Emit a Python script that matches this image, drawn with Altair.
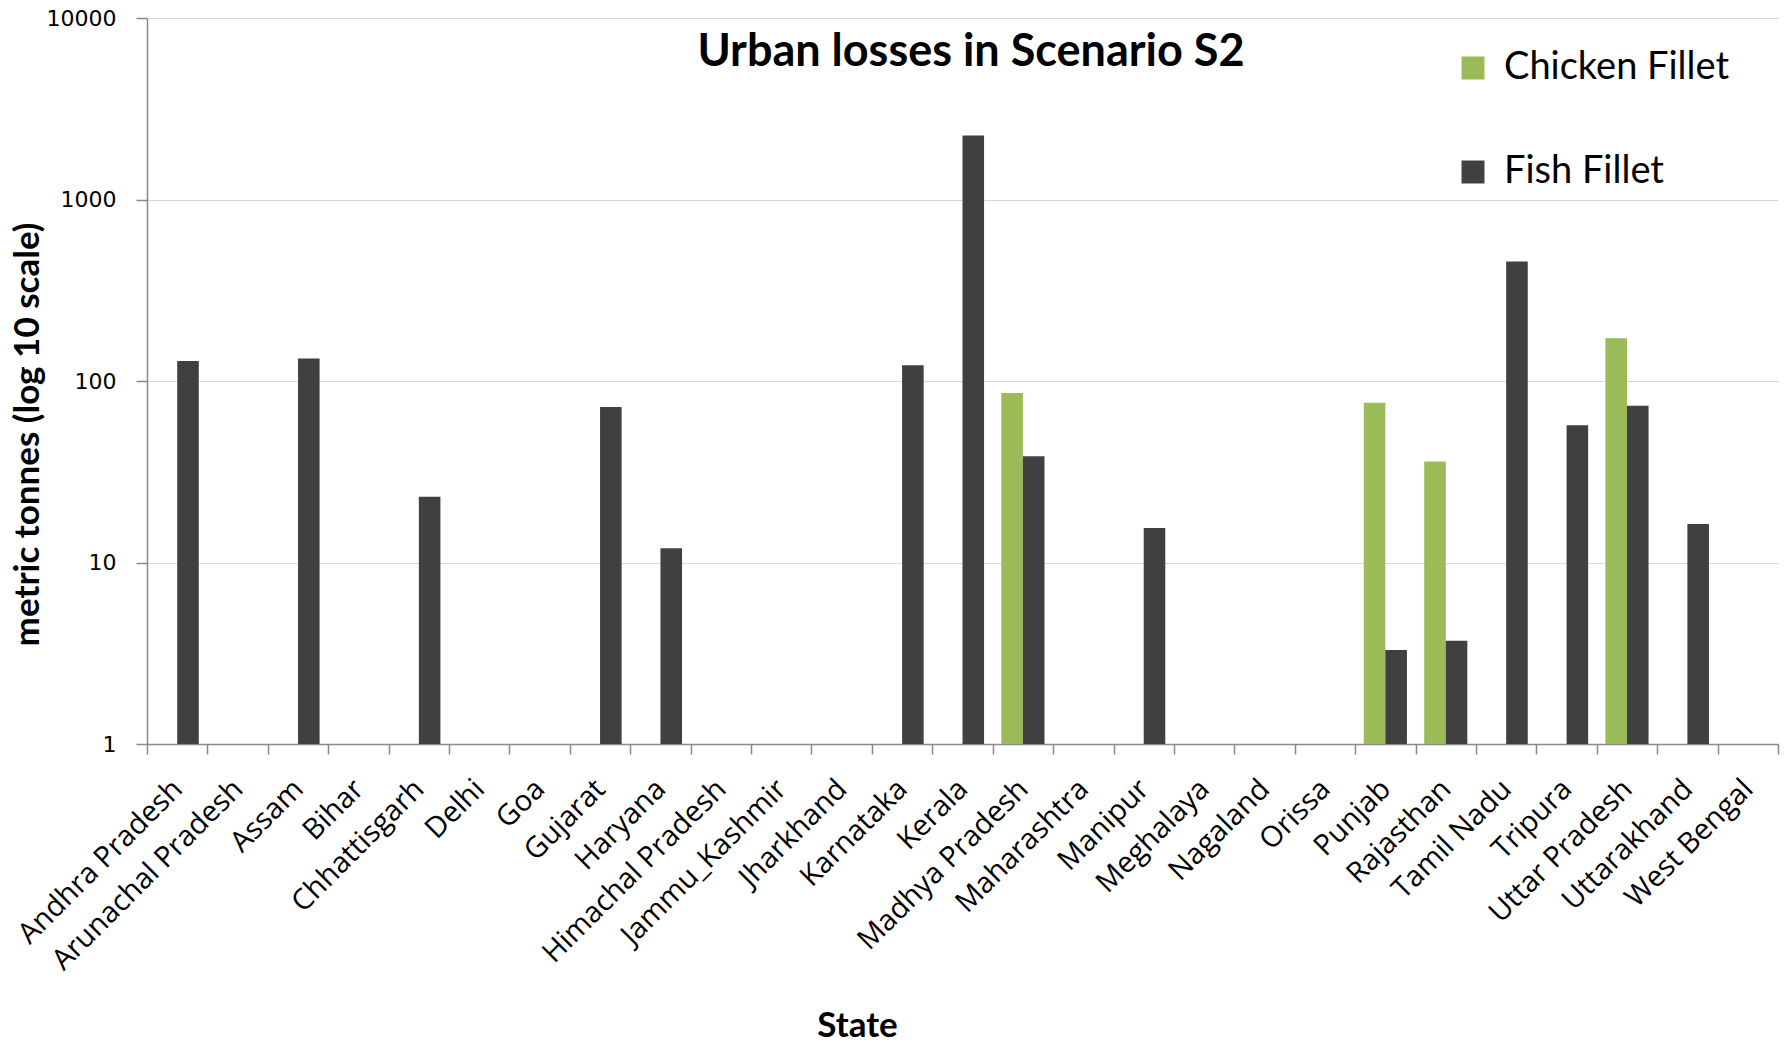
import altair as alt
import pandas as pd

# Urban losses (metric tonnes) by state, scenario S2
states = [
    "Andhra Pradesh", "Arunachal Pradesh", "Assam", "Bihar", "Chhattisgarh",
    "Delhi", "Goa", "Gujarat", "Haryana", "Himachal Pradesh", "Jammu_Kashmir",
    "Jharkhand", "Karnataka", "Kerala", "Madhya Pradesh", "Maharashtra",
    "Manipur", "Meghalaya", "Nagaland", "Orissa", "Punjab", "Rajasthan",
    "Tamil Nadu", "Tripura", "Uttar Pradesh", "Uttarakhand", "West Bengal",
]
chicken_fillet = [
    None, None, None, None, None, None, None, None, None, None, None, None,
    None, None, 86, None, None, None, None, None, 76, 36, None, None, 172,
    None, None,
]
fish_fillet = [
    129, None, 133, None, 23, None, None, 72, 12, None, None, None, 122,
    2250, 38.5, None, 15.5, None, None, None, 3.3, 3.7, 455, 57, 73, 16.3,
    None,
]
series = ["Chicken Fillet", "Fish Fillet"]
colors = ["#9bbb59", "#404040"]
y_ticks = [1, 10, 100, 1000, 10000]

rows = []
for name, values in zip(series, [chicken_fillet, fish_fillet]):
    for st, v in zip(states, values):
        if v is not None:
            rows.append({"State": st, "Product": name, "Loss": v})
df = pd.DataFrame(rows)

W, H = 1631, 726
FONT = "Lato"

bars = alt.Chart(df).mark_bar().encode(
    x=alt.X(
        "State:N",
        sort=states,
        scale=alt.Scale(domain=states, paddingInner=0, paddingOuter=0),
        axis=alt.Axis(
            title="State",
            labelAngle=-45,
            labelAlign="right",
            labelBaseline="middle",
            labelFont="Open Sans",
            labelFontSize=29,
            labelColor="#000000",
            labelPadding=30,
            labelLimit=0,
            tickBand="extent",
            tickSize=10,
            titleFont=FONT,
            titleFontSize=35,
            titleFontWeight="bold",
            titleColor="#000000",
            titleX=710,
            titleY=281,
            titleAlign="center",
            titleBaseline="middle",
            grid=False,
        ),
    ),
    xOffset=alt.XOffset(
        "Product:N",
        scale=alt.Scale(domain=series, paddingInner=0, paddingOuter=0.4),
    ),
    y=alt.Y(
        "Loss:Q",
        scale=alt.Scale(type="log", domain=[1, 10000], nice=False),
        axis=alt.Axis(
            title="metric tonnes (log 10 scale)",
            values=y_ticks,
            format="d",
            labelFont="DejaVu Sans",
            labelFontSize=22,
            labelColor="#000000",
            labelPadding=20,
            tickSize=11,
            titleFont=FONT,
            titleFontSize=35,
            titleFontWeight="bold",
            titleColor="#000000",
            titleX=-120,
            titleY=416,
            titleAlign="center",
            titleBaseline="middle",
            grid=True,
        ),
    ),
    y2=alt.datum(1),
    color=alt.Color(
        "Product:N",
        scale=alt.Scale(domain=series, range=colors),
        legend=alt.Legend(
            title=None,
            orient="none",
            legendX=1307,
            legendY=31,
            symbolType="square",
            symbolSize=529,
            symbolStrokeWidth=0,
            labelFont=FONT,
            labelFontSize=38,
            labelColor="#000000",
            labelOffset=12,
            labelLimit=0,
            rowPadding=66,
        ),
    ),
)

title = alt.Chart(pd.DataFrame({"t": ["Urban losses in Scenario S2"]})).mark_text(
    font=FONT, fontSize=45, fontWeight="bold", color="#000000", align="center", baseline="middle"
).encode(text="t:N", x=alt.value(824), y=alt.value(34))

chart = (
    alt.layer(bars, title)
    .properties(
        width=W,
        height=H,
        autosize=alt.AutoSizeParams(type="none"),
        padding={"left": 147, "top": 18, "right": 13, "bottom": 298},
        background="#ffffff",
    )
    .configure_view(strokeWidth=0)
    .configure_axis(
        domainColor="#898989",
        tickColor="#898989",
        gridColor="#d9d9d9",
        gridWidth=1,
        domainWidth=1.5,
        tickWidth=1.5,
    )
)

chart.save("out.html", embed_options={"renderer": "svg", "actions": False})
